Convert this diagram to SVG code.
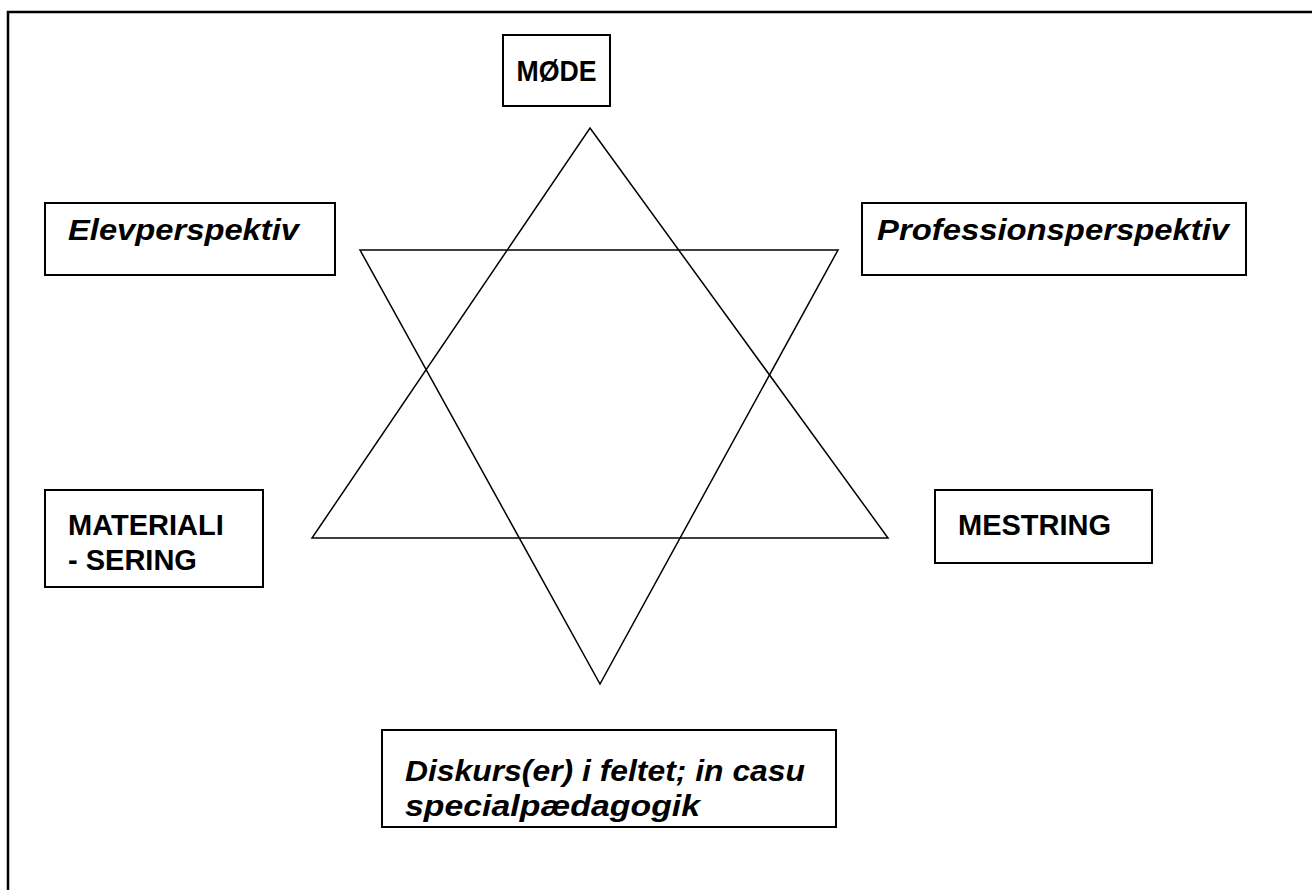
<svg xmlns="http://www.w3.org/2000/svg" width="1312" height="890" viewBox="0 0 1312 890">
<style>
.box{fill:#fff;stroke:#000;stroke-width:2}
.t{font-family:"Liberation Sans",Arial,sans-serif;font-weight:bold;font-size:29px;fill:#000}
.i{font-style:italic;font-size:30px}
.star{fill:none;stroke:#000;stroke-width:1.5;stroke-linejoin:miter}
</style>
<rect width="1312" height="890" fill="#fff"/>
<path d="M8,890 V12 H1312" fill="none" stroke="#000" stroke-width="2.5"/>
<g id="connectors">
<polygon class="star" points="590,128 888,538 312,538"/>
<polygon class="star" points="360,250 838,250 600,684"/>
</g>
<g id="mode">
<rect class="box" x="503" y="35" width="107" height="71"/>
<text class="t" x="556.5" y="81" text-anchor="middle" textLength="80" lengthAdjust="spacingAndGlyphs">MØDE</text>
</g>
<g id="elevperspektiv">
<rect class="box" x="45" y="203" width="290" height="72"/>
<text class="t i" x="68" y="240" textLength="231" lengthAdjust="spacingAndGlyphs">Elevperspektiv</text>
</g>
<g id="professionsperspektiv">
<rect class="box" x="862" y="203" width="384" height="72"/>
<text class="t i" x="877" y="240" textLength="352" lengthAdjust="spacingAndGlyphs">Professionsperspektiv</text>
</g>
<g id="materialisering">
<rect class="box" x="45" y="490" width="218" height="97"/>
<text class="t" x="68" y="535">MATERIALI</text>
<text class="t" x="68" y="570">- SERING</text>
</g>
<g id="mestring">
<rect class="box" x="935" y="490" width="217" height="73"/>
<text class="t" x="958" y="535">MESTRING</text>
</g>
<g id="diskurs">
<rect class="box" x="382" y="730" width="454" height="97"/>
<text class="t i" x="405" y="781" textLength="400" lengthAdjust="spacingAndGlyphs">Diskurs(er) i feltet; in casu</text>
<text class="t i" x="405" y="816" textLength="295" lengthAdjust="spacingAndGlyphs">specialpædagogik</text>
</g>
</svg>
